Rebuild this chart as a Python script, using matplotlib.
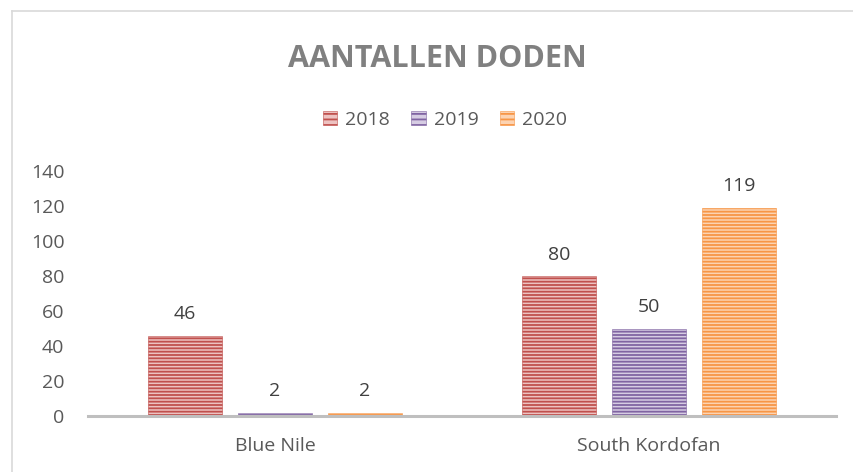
import numpy as np
import matplotlib
matplotlib.use("Agg")
import matplotlib.pyplot as plt
from matplotlib.lines import Line2D

plt.rcParams['font.family'] = ['Open Sans', 'DejaVu Sans']
plt.rcParams['hatch.linewidth'] = 1.3

# data
regions = ['Blue Nile', 'South Kordofan']
years = ['2018', '2019', '2020']
deaths_2018 = [46, 80]
deaths_2019 = [2, 50]
deaths_2020 = [2, 119]
yticks = [0, 20, 40, 60, 80, 100, 120, 140]

series = [deaths_2018, deaths_2019, deaths_2020]
line_cols = ['#C0504D', '#8064A2', '#F79646']
face_cols = ['#EDC2C1', '#D6CCE3', '#FCD3B2']
fs = 14

fig = plt.figure(figsize=(8.54, 4.72), dpi=100)
ax = fig.add_axes([0.103, 0.1186, 0.876, 0.519])

x = np.arange(len(regions))
w = 0.197
step = 0.24
for i, (vals, lc, fc) in enumerate(zip(series, line_cols, face_cols)):
    bars = ax.bar(x + (i - 1) * step, vals, w, color=fc, edgecolor=lc,
                  hatch='-----', linewidth=0.4, label=years[i], zorder=2)
    ax.bar_label(bars, padding=9, fontsize=fs, color='#404040')

ax.set_xlim(-0.5, 1.5)
ax.set_ylim(0, 140)
ax.set_yticks(yticks)
ax.set_xticks(x)
ax.set_xticklabels(regions)
ax.tick_params(axis='y', length=0, pad=17, labelsize=fs, labelcolor='#595959')
ax.tick_params(axis='x', length=0, pad=15, labelsize=fs, labelcolor='#595959')
for s in ['top', 'right', 'left']:
    ax.spines[s].set_visible(False)
ax.spines['bottom'].set_color('#BFBFBF')
ax.spines['bottom'].set_linewidth(2.2)
ax.spines['bottom'].set_zorder(3)

handles = [plt.Rectangle((0, 0), 1, 1, facecolor=fc, edgecolor=lc, hatch='---', linewidth=0.4)
           for lc, fc in zip(line_cols, face_cols)]
fig.legend(handles, years, loc='center', bbox_to_anchor=(0.521, 0.746), ncol=3,
           frameon=False, handlelength=0.75, handleheight=0.75, handletextpad=0.4,
           columnspacing=1.1, fontsize=fs, labelcolor='#595959')

fig.text(0.512, 0.874, 'AANTALLEN DODEN', ha='center', va='center',
         fontsize=22, fontweight='bold', color='#808080')

# chart border
fig.add_artist(Line2D([12 / 854, 1], [1 - 11 / 472, 1 - 11 / 472], color='#D9D9D9', lw=1.2))
fig.add_artist(Line2D([12 / 854, 12 / 854], [0, 1 - 11 / 472], color='#D9D9D9', lw=1.2))

fig.savefig('out.png', dpi=100)
